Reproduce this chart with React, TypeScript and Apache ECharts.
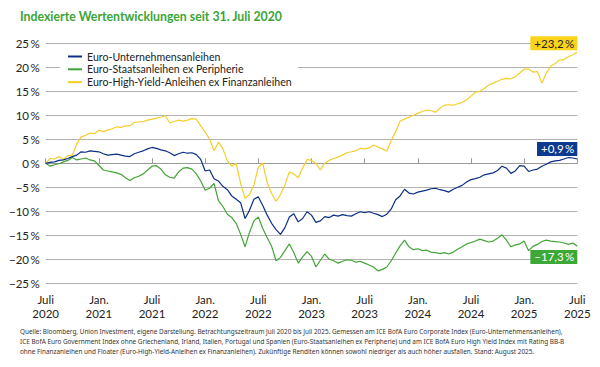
import React, { useEffect, useRef } from "react";
import * as echarts from "echarts";

const TITLE = "Indexierte Wertentwicklungen seit 31. Juli 2020";
const SERIES_NAMES = [
  "Euro-Unternehmensanleihen",
  "Euro-Staatsanleihen ex Peripherie",
  "Euro-High-Yield-Anleihen ex Finanzanleihen",
];
const COLORS = ["#0c2f85", "#43a437", "#f7cd2a"];
const X_TICK_LABELS = [
  "Juli\n2020", "Jan.\n2021", "Juli\n2021", "Jan.\n2022", "Juli\n2022", "Jan.\n2023",
  "Juli\n2023", "Jan.\n2024", "Juli\n2024", "Jan.\n2025", "Juli\n2025",
];
const STEP_MONTHS = 0.5;

const corporate = [
  0, 0.2, 0.3, 0.6, 0.7, 1.0, 1.4, 1.7, 2.4, 2.3, 2.6, 2.5,
  2.4, 2.0, 1.7, 1.8, 1.9, 1.7, 1.5, 1.4, 2.0, 2.3, 2.6, 3.0,
  3.3, 3.1, 2.8, 2.6, 2.2, 1.6, 2.0, 2.3, 2.1, 2.2, 1.8, 0.8,
  -1.6, -1.4, -3.2, -3.7, -4.8, -5.5, -6.8, -7.5, -8.2, -11.5, -9.8, -7.5,
  -7.0, -8.8, -10.8, -12.5, -13.8, -14.8, -13.4, -11.2, -10.5, -12.2, -11.5, -10.1,
  -10.8, -12.3, -12.0, -11.1, -11.3, -10.8, -11.0, -10.7, -10.9, -11.0, -10.5, -10.1,
  -10.3, -10.1, -10.4, -10.7, -11.1, -10.6, -9.5, -7.6, -6.8, -5.4, -6.2, -6.4,
  -6.0, -5.8, -5.6, -5.3, -5.2, -5.5, -5.7, -6.0, -5.4, -5.0, -4.6, -3.9,
  -3.4, -3.2, -2.9, -2.4, -2.2, -2.0, -1.5, -0.6, -1.0, -2.1, -1.6, -0.5,
  -0.6, -1.7, -1.4, -1.2, -0.6, -0.2, 0.3, 0.5, 0.6, 0.9, 1.2, 1.1,
  0.9,
];
const government = [
  0, -0.6, -0.3, -0.1, 0.3, 0.6, 1.2, 0.7, 0.9, 1.1, 0.7, 0.5,
  -0.4, -1.4, -1.6, -1.8, -2.0, -2.3, -3.0, -3.6, -3.0, -2.7, -2.2, -1.4,
  -0.6, -0.5, -1.2, -2.4, -2.9, -3.1, -1.8, -1.0, -0.9, -1.2, -2.2, -3.7,
  -5.6, -5.2, -4.2, -7.8, -9.0, -10.6, -11.3, -12.5, -14.8, -17.4, -14.4, -12.0,
  -11.2, -13.6, -15.5, -17.3, -20.3, -19.6, -18.2, -16.8, -18.6, -20.8, -19.5, -18.4,
  -19.4, -21.6, -20.2, -18.9, -20.0, -20.3, -20.8, -20.4, -20.1, -20.2, -20.6, -20.4,
  -20.8, -21.2, -21.6, -22.4, -22.1, -21.6, -20.3, -18.7, -17.2, -16.0, -17.4, -18.0,
  -17.8, -18.2, -18.1, -18.5, -18.6, -18.8, -18.6, -18.9, -18.5, -17.9, -17.4, -16.8,
  -16.5, -16.2, -15.8, -16.1, -16.4, -16.2, -15.6, -14.9, -16.0, -17.4, -17.0, -16.8,
  -16.2, -18.2, -17.3, -16.9, -16.3, -16.0, -16.2, -16.3, -16.4, -16.6, -16.9, -16.6,
  -17.3,
];
const highYield = [
  0, 1.0, 0.9, 1.4, 0.8, 1.6, 1.7, 4.0, 5.5, 5.8, 6.3, 6.2,
  6.9, 6.6, 6.9, 7.2, 7.6, 7.5, 7.8, 7.8, 8.5, 8.6, 8.7, 9.0,
  9.2, 9.4, 9.6, 9.9, 8.4, 8.7, 9.0, 8.8, 9.0, 9.3, 9.2, 7.8,
  6.5, 5.0, 2.6, 4.4, 3.0, 0.5, -0.6, 0.0, -4.2, -7.3, -6.5, -4.5,
  -0.8, 0.0, -4.0, -6.3, -7.9, -6.5, -4.5, -1.8, -2.2, -3.0, -1.0, 0.8,
  0.6, 0.0, -1.4, 0.0, 0.6, 1.0, 1.3, 1.7, 2.2, 2.4, 2.6, 3.1,
  3.0, 3.2, 3.8, 3.4, 3.0, 2.5, 4.8, 6.6, 8.8, 9.2, 9.6, 10.0,
  10.4, 10.8, 11.1, 11.0, 10.6, 11.5, 12.1, 12.2, 12.1, 12.4, 12.7, 13.2,
  14.0, 14.8, 15.0, 15.6, 16.3, 16.7, 17.1, 17.5, 17.7, 17.6, 18.0, 18.8,
  19.6, 19.6, 19.0, 19.1, 16.7, 18.8, 20.2, 20.8, 21.5, 21.6, 22.2, 22.6,
  23.2,
];
const END_LABELS = ["+0,9\u2009%", "\u201317,3\u2009%", "+23,2\u2009%"];
const END_LABEL_Y = [3, -19.5, 25];
const END_LABEL_TEXT = ["#ffffff", "#ffffff", "#222222"];
const END_LABEL_BG = ["#0c3a8f", "#3ea836", "#fcd31b"];
const FOOTNOTE = [
  "Quelle: Bloomberg, Union Investment, eigene Darstellung. Betrachtungszeitraum Juli 2020 bis Juli 2025. Gemessen am ICE BofA Euro Corporate Index (Euro-Unternehmensanleihen),",
  "ICE BofA Euro Government Index ohne Griechenland, Irland, Italien, Portugal und Spanien (Euro-Staatsanleihen ex Peripherie) und am ICE BofA Euro High Yield Index mit Rating BB-B",
  "ohne Finanzanleihen und Floater (Euro-High-Yield-Anleihen ex Finanzanleihen). Zukünftige Renditen können sowohl niedriger als auch höher ausfallen. Stand: August 2025.",
];

const FONT = "Lato, 'Noto Sans', sans-serif";
const NOTE_FONT = "'Noto Sans', sans-serif";

export default function App() {
  const ref = useRef<HTMLDivElement>(null);
  useEffect(() => {
    document.body.style.margin = "0";
    const chart = echarts.init(ref.current!, null, { renderer: "svg" });
    const seriesData = [corporate, government, highYield];
    const xMax = (corporate.length - 1) * STEP_MONTHS;
    chart.setOption({
      animation: false,
      backgroundColor: "#ffffff",
      textStyle: { fontFamily: FONT },
      grid: { left: 45.7, right: 22.7, top: 43.3, bottom: 83.7 },
      legend: {
        orient: "vertical",
        left: 60,
        top: 50,
        itemWidth: 14,
        itemHeight: 2,
        itemGap: 1.8,
        padding: [1, 6, 1, 8],
        backgroundColor: "#ffffff",
        icon: "rect",
        textStyle: { fontSize: 10.6, lineHeight: 11, color: "#222", fontFamily: FONT, padding: [0, 0, 0, 0] },
        data: SERIES_NAMES,
      },
      xAxis: {
        type: "value",
        min: 0,
        max: xMax,
        interval: 6,
        axisLine: { show: true, lineStyle: { color: "#9a9a9a", width: 1 } },
        axisTick: { show: true, inside: true, length: 5, lineStyle: { color: "#9a9a9a" } },
        splitLine: { show: false },
        axisLabel: {
          margin: 9,
          fontSize: 11.5,
          lineHeight: 14,
          color: "#222",
          fontFamily: FONT,
          formatter: (v: number) => X_TICK_LABELS[Math.round(v / 6)] ?? "",
        },
      },
      yAxis: {
        type: "value",
        min: -25,
        max: 25,
        interval: 5,
        axisLine: { show: false },
        axisTick: { show: false },
        splitLine: { lineStyle: { color: "#b3b3b3", width: 1 } },
        axisLabel: {
          margin: 6,
          fontSize: 11.5,
          color: "#222",
          fontFamily: FONT,
          formatter: (v: number) => (v < 0 ? "\u2212" + Math.abs(v) : String(v)) + "\u2009%",
        },
      },
      graphic: [
        {
          type: "text",
          left: 20,
          top: 10,
          style: { text: TITLE, fill: "#3aa535", font: `bold 12.3px ${FONT}` },
        },
        ...FOOTNOTE.map((t, i) => ({
          type: "text",
          left: 20,
          top: 328 + i * 10,
          style: { text: t, fill: "#333", font: `6.4px ${NOTE_FONT}` },
        })),
      ],
      series: seriesData.map((arr, si) => ({
        name: SERIES_NAMES[si],
        type: "line",
        data: arr.map((v, i) => [i * STEP_MONTHS, v]),
        showSymbol: false,
        symbol: "none",
        lineStyle: { color: COLORS[si], width: 1.2 },
        itemStyle: { color: COLORS[si] },
        z: si === 1 ? 3 : si === 0 ? 4 : 2,
        markPoint: {
          symbol: "rect",
          symbolSize: 0,
          silent: true,
          data: [
            {
              coord: [xMax, END_LABEL_Y[si]],
              label: {
                show: true,
                position: "left",
                distance: 0,
                formatter: END_LABELS[si],
                color: END_LABEL_TEXT[si],
                backgroundColor: END_LABEL_BG[si],
                padding: [1, 3, 1, 4],
                fontSize: 11.5,
                fontFamily: FONT,
              },
            },
          ],
        },
      })),
    });
    return () => chart.dispose();
  }, []);
  return <div ref={ref} style={{ width: 600, height: 367 }} />;
}
